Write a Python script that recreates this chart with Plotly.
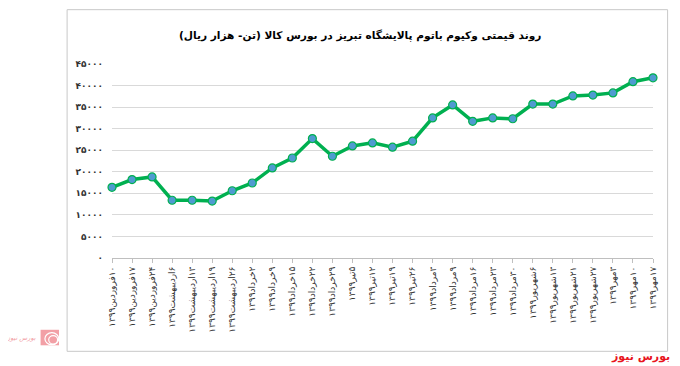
import plotly.graph_objects as go

RLE, PDF, RLM = "\u202B", "\u202C", "\u200F"

title_text = "روند قیمتی وکیوم باتوم پالایشگاه تبریز در بورس کالا (تن- هزار ریال)"
brand_text = "بورس نیوز"

dates = [
    "۱۰فروردین۱۳۹۹", "۱۷فروردین۱۳۹۹", "۲۴فروردین۱۳۹۹",
    "۶اردیبهشت۱۳۹۹", "۱۳اردیبهشت۱۳۹۹", "۱۹اردیبهشت۱۳۹۹", "۲۶اردیبهشت۱۳۹۹",
    "۲خرداد۱۳۹۹", "۹خرداد۱۳۹۹", "۱۵خرداد۱۳۹۹", "۲۲خرداد۱۳۹۹", "۲۹خرداد۱۳۹۹",
    "۵تیر۱۳۹۹", "۱۲تیر۱۳۹۹", "۱۹تیر۱۳۹۹", "۲۶تیر۱۳۹۹",
    "۳مرداد۱۳۹۹", "۹مرداد۱۳۹۹", "۱۶مرداد۱۳۹۹", "۲۳مرداد۱۳۹۹", "۳۰مرداد۱۳۹۹",
    "۶شهریور۱۳۹۹", "۱۳شهریور۱۳۹۹", "۲۱شهریور۱۳۹۹", "۲۷شهریور۱۳۹۹",
    "۳مهر۱۳۹۹", "۱۰مهر۱۳۹۹", "۱۷مهر۱۳۹۹",
]

prices = [
    16400, 18200, 18800, 13400, 13400, 13200, 15600, 17400,
    20900, 23200, 27700, 23600, 26000, 26700, 25700, 27100,
    32500, 35500, 31700, 32500, 32300, 35700, 35700, 37600,
    37800, 38300, 40900, 41800,
]

y_ticks = [0, 5000, 10000, 15000, 20000, 25000, 30000, 35000, 40000, 45000]

FA = str.maketrans("0123456789", "۰۱۲۳۴۵۶۷۸۹")


def fa(n):
    return str(n).translate(FA)


x_labels = [RLM + d for d in dates]

FONT = "DejaVu Sans"

fig = go.Figure()
fig.add_trace(go.Scatter(
    x=x_labels, y=prices, mode="lines+markers",
    line=dict(color="#00B050", width=3.5),
    marker=dict(size=8, color="#4F9BD0", line=dict(color="#00B050", width=1.2)),
    cliponaxis=False, showlegend=False,
))

# page body has an 8px margin, so the figure is 672x358 and offset by 8px
fig.update_layout(
    width=672, height=358,
    margin=dict(l=104, r=27, t=56, b=108, autoexpand=False),
    paper_bgcolor="white", plot_bgcolor="white",
    font=dict(family=FONT, size=9, color="#222"),
    title=dict(text="<b>" + RLE + title_text + PDF + "</b>",
               x=0.524, xanchor="center", y=0.925, yref="container", yanchor="middle",
               font=dict(family=FONT, size=10.6, color="#000")),
)

fig.update_xaxes(
    type="category", range=[0, len(dates) - 1], automargin=False,
    tickangle=-90, ticks="outside", ticklen=4, tickcolor="#bfbfbf",
    showline=True, linecolor="#bfbfbf", linewidth=1,
    showgrid=False, tickfont=dict(family=FONT, size=9, color="#333"),
)

fig.update_yaxes(
    range=[0, 45000], tickvals=y_ticks, ticktext=[fa(v) for v in y_ticks],
    automargin=False,
    showgrid=True, gridcolor="#d9d9d9", gridwidth=1, zeroline=False,
    showline=False, ticks="", ticklabelstandoff=8,
    tickfont=dict(family=FONT, size=9, color="#333", weight="bold"),
)

# outer chart border
fig.add_shape(type="rect", xref="paper", yref="paper",
              x0=-0.083, x1=1.027, y0=-0.481, y1=1.28,
              line=dict(color="#c8c8c8", width=1), fillcolor="rgba(0,0,0,0)",
              layer="above")

# footer brand text (bottom right, red)
fig.add_annotation(text="<b>" + brand_text + "</b>",
                   xref="paper", yref="paper", x=1.035, y=-0.51,
                   xanchor="right", yanchor="middle", showarrow=False,
                   font=dict(family=FONT, size=11, color="#e8141c"))

# faint logo watermark at bottom-left
fig.add_shape(type="rect", xref="paper", yref="paper",
              x0=-0.132, x1=-0.098, y0=-0.37, y1=-0.45,
              line=dict(width=0), fillcolor="#f2a0a6")
for x0, y0 in [(-0.124, -0.385), (-0.117, -0.400)]:
    fig.add_shape(type="circle", xref="paper", yref="paper",
                  x0=x0, x1=-0.096 - (x0 + 0.132) * 0.3, y0=y0, y1=-0.45 + (y0 + 0.37) * -0.2,
                  line=dict(color="white", width=1.2), fillcolor="rgba(0,0,0,0)")
fig.add_annotation(text="<i>" + brand_text + "</i>",
                   xref="paper", yref="paper", x=-0.136, y=-0.41,
                   xanchor="right", yanchor="middle", showarrow=False,
                   font=dict(family=FONT, size=6.5, color="#f2a0a6"))

fig.write_html("out.html")
